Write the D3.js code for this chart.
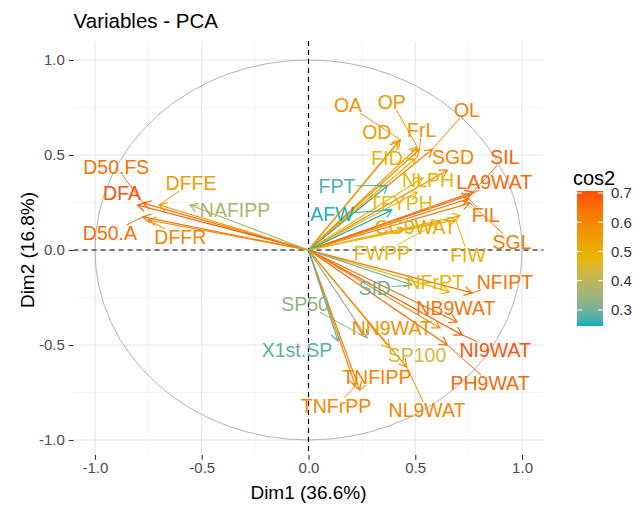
<!DOCTYPE html>
<html lang="en">
<head>
<meta charset="UTF-8">
<title>Variables - PCA</title>
<script src="https://d3js.org/d3.v7.min.js"></script>
<style>
  body { margin: 0; background: #fff; }
  svg text { font-family: "Liberation Sans", Arial, sans-serif; }
</style>
</head>
<body>
<svg width="643" height="506"></svg>
<script>
// variable names, coordinates on Dim1/Dim2, cos2, and label positions (repel result, data units)
const varNames = ["D50.FS","DFA","D50.A","DFFE","DFFR","NAFIPP","OA","OP","OL","OD","FrL","FID","SGD","SIL",
  "LA9WAT","FIL","SGL","NLPH","TFYPH","FPT","AFW","CG9WAT","FIW","FWPP","NFrPT","NFIPT","SID","NB9WAT",
  "NI9WAT","PH9WAT","NN9WAT","SP100","NL9WAT","TNFIPP","TNFrPP","X1st.SP","SP50"];
const dim1 = [-0.775,-0.80,-0.775,-0.70,-0.75,-0.555,0.43,0.51,0.58,0.42,0.52,0.50,0.65,0.77,
  0.756,0.75,0.756,0.536,0.51,0.37,0.39,0.71,0.69,0.616,0.66,0.766,0.485,0.696,
  0.72,0.65,0.616,0.38,0.46,0.24,0.22,0.138,0.274];
const dim2 = [0.247,0.237,0.174,0.237,0.158,0.237,0.58,0.54,0.53,0.57,0.53,0.48,0.42,0.305,
  0.29,0.27,0.247,0.38,0.305,0.34,0.21,0.18,0.158,0.147,-0.22,-0.226,-0.184,-0.379,
  -0.447,-0.50,-0.41,-0.516,-0.616,-0.737,-0.716,-0.479,-0.463];
const cos2 = [0.64,0.70,0.65,0.55,0.60,0.37,0.57,0.57,0.61,0.55,0.57,0.49,0.60,0.68,
  0.66,0.64,0.62,0.48,0.47,0.27,0.25,0.52,0.50,0.47,0.48,0.64,0.29,0.64,
  0.70,0.66,0.58,0.44,0.60,0.61,0.60,0.28,0.33];
const labelDim1 = [-0.90,-0.873,-0.93,-0.55,-0.60,-0.344,0.185,0.39,0.742,0.32,0.53,0.368,0.677,0.92,
  0.87,0.83,0.953,0.56,0.433,0.133,0.11,0.50,0.747,0.344,0.593,0.92,0.31,0.69,
  0.874,0.85,0.39,0.508,0.555,0.32,0.129,-0.054,-0.016];
const labelDim2 = [0.437,0.30,0.09,0.353,0.068,0.21,0.763,0.78,0.737,0.62,0.63,0.484,0.49,0.49,
  0.358,0.184,0.042,0.37,0.25,0.337,0.19,0.12,-0.026,-0.016,-0.168,-0.168,-0.2,-0.305,
  -0.526,-0.70,-0.41,-0.553,-0.842,-0.668,-0.82,-0.526,-0.284];

const xTicks = [-1, -0.5, 0, 0.5, 1];
const yTicks = [-1, -0.5, 0, 0.5, 1];
const minorTicks = [-0.75, -0.25, 0.25, 0.75];
const legendTicks = [0.3, 0.4, 0.5, 0.6, 0.7];
const cos2Range = [0.245, 0.707];
const gradientCols = ["#00AFBB", "#E7B800", "#FC4E07"];

const rows = varNames.map((name, i) => ({
  name, x: dim1[i], y: dim2[i], cos2: cos2[i], lx: labelDim1[i], ly: labelDim2[i]
}));

const svg = d3.select("svg");
const x = d3.scaleLinear().domain([-1.1, 1.1]).range([73.6, 543.4]);
const y = d3.scaleLinear().domain([-1.1, 1.1]).range([459, 41]);
const panelBottom = 455;

const color = d3.scaleLinear()
  .domain([cos2Range[0], (cos2Range[0] + cos2Range[1]) / 2, cos2Range[1]])
  .range(gradientCols)
  .interpolate(d3.interpolateLab)
  .clamp(true);

// grid
const grid = svg.append("g");
grid.selectAll(".vminor").data(minorTicks).join("line")
  .attr("x1", d => x(d)).attr("x2", d => x(d)).attr("y1", y(1.1)).attr("y2", panelBottom)
  .attr("stroke", "#EFEFEF").attr("stroke-width", 0.7);
grid.selectAll(".hminor").data(minorTicks).join("line")
  .attr("y1", d => y(d)).attr("y2", d => y(d)).attr("x1", x(-1.1)).attr("x2", x(1.1))
  .attr("stroke", "#EFEFEF").attr("stroke-width", 0.7);
grid.selectAll(".vmajor").data(xTicks).join("line")
  .attr("x1", d => x(d)).attr("x2", d => x(d)).attr("y1", y(1.1)).attr("y2", panelBottom)
  .attr("stroke", "#E6E6E6").attr("stroke-width", 1.1);
grid.selectAll(".hmajor").data(yTicks).join("line")
  .attr("y1", d => y(d)).attr("y2", d => y(d)).attr("x1", x(-1.1)).attr("x2", x(1.1))
  .attr("stroke", "#E6E6E6").attr("stroke-width", 1.1);

// correlation circle
svg.append("ellipse")
  .attr("cx", x(0)).attr("cy", y(0))
  .attr("rx", x(1) - x(0)).attr("ry", y(0) - y(1))
  .attr("fill", "none").attr("stroke", "#B3B3B3").attr("stroke-width", 1);

// dashed zero lines
svg.append("line").attr("x1", x(-1.1)).attr("x2", x(1.1)).attr("y1", y(0)).attr("y2", y(0))
  .attr("stroke", "#000").attr("stroke-width", 1.2).attr("stroke-dasharray", "5,4");
svg.append("line").attr("x1", x(0)).attr("x2", x(0)).attr("y1", y(1.1)).attr("y2", panelBottom)
  .attr("stroke", "#000").attr("stroke-width", 1.2).attr("stroke-dasharray", "5,4");

// arrows
function arrowPath(x0, y0, x1, y1) {
  const a = Math.atan2(y1 - y0, x1 - x0), L = 9, w = Math.PI / 6;
  const p1 = [x1 - L * Math.cos(a - w), y1 - L * Math.sin(a - w)];
  const p2 = [x1 - L * Math.cos(a + w), y1 - L * Math.sin(a + w)];
  return `M${x0},${y0}L${x1},${y1}M${p1}L${x1},${y1}L${p2}`;
}
svg.append("g").selectAll("path").data(rows).join("path")
  .attr("d", d => arrowPath(x(0), y(0), x(d.x), y(d.y)))
  .attr("fill", "none")
  .attr("stroke", d => color(d.cos2))
  .attr("stroke-width", 1.2);

// labels (segments drawn underneath)
const segG = svg.append("g");
const labels = svg.append("g").selectAll("text").data(rows).join("text")
  .attr("x", d => x(d.lx)).attr("y", d => y(d.ly))
  .attr("dy", "0.36em")
  .attr("text-anchor", "middle")
  .attr("font-size", 19.5)
  .attr("fill", d => color(d.cos2))
  .text(d => d.name);

labels.each(function(d) {
  const w = this.getComputedTextLength();
  const cx = x(d.lx), cy = y(d.ly);
  const hw = w / 2 + 1, hh = 8;
  const px = x(d.x), py = y(d.y);
  const dx = px - cx, dy = py - cy;
  if (Math.abs(dx) <= hw && Math.abs(dy) <= hh) return;
  const t = Math.min(dx !== 0 ? hw / Math.abs(dx) : Infinity, dy !== 0 ? hh / Math.abs(dy) : Infinity);
  const sx = cx + dx * t, sy = cy + dy * t;
  if (Math.hypot(px - sx, py - sy) < 8) return;
  segG.append("line")
    .attr("x1", sx).attr("y1", sy).attr("x2", px).attr("y2", py)
    .attr("stroke", color(d.cos2)).attr("stroke-width", 1);
});

// axes
const xAxis = svg.append("g")
  .attr("transform", `translate(0,${panelBottom})`)
  .call(d3.axisBottom(x).tickValues(xTicks).tickFormat(d => d.toFixed(1)).tickSize(4.8).tickPadding(3));
const yAxis = svg.append("g")
  .attr("transform", `translate(${x(-1.1)},0)`)
  .call(d3.axisLeft(y).tickValues(yTicks).tickFormat(d => d.toFixed(1)).tickSize(4.8).tickPadding(4));
[xAxis, yAxis].forEach(a => {
  a.select(".domain").remove();
  a.selectAll(".tick line").attr("stroke", "#333").attr("stroke-width", 1.1);
  a.selectAll(".tick text").attr("fill", "#4D4D4D").attr("font-size", 15)
    .attr("font-family", "'Liberation Sans', Arial, sans-serif");
});

// titles
svg.append("text").attr("x", x(-1.1)).attr("y", 28)
  .attr("font-size", 20.5).attr("fill", "#000").text("Variables - PCA");
svg.append("text").attr("x", x(0)).attr("y", 499)
  .attr("text-anchor", "middle").attr("font-size", 19).attr("fill", "#000").text("Dim1 (36.6%)");
svg.append("text").attr("transform", `translate(34,${y(0)}) rotate(-90)`)
  .attr("text-anchor", "middle").attr("font-size", 19).attr("fill", "#000").text("Dim2 (16.8%)");

// legend
const ly = d3.scaleLinear().domain(cos2Range).range([326, 191]);
const defs = svg.append("defs");
const grad = defs.append("linearGradient").attr("id", "cos2grad")
  .attr("x1", 0).attr("y1", 1).attr("x2", 0).attr("y2", 0);
d3.range(0, 1.0001, 0.05).forEach(t => {
  grad.append("stop").attr("offset", t)
    .attr("stop-color", color(cos2Range[0] + t * (cos2Range[1] - cos2Range[0])));
});
const bx = 577, bw = 26;
svg.append("text").attr("x", 573).attr("y", 185).attr("font-size", 20).attr("fill", "#000").text("cos2");
svg.append("rect").attr("x", bx).attr("y", ly(cos2Range[1])).attr("width", bw)
  .attr("height", ly(cos2Range[0]) - ly(cos2Range[1])).attr("fill", "url(#cos2grad)");
const lt = svg.append("g").selectAll("g").data(legendTicks).join("g");
lt.append("line").attr("x1", bx).attr("x2", bx + 5).attr("y1", d => ly(d)).attr("y2", d => ly(d))
  .attr("stroke", "#fff").attr("stroke-width", 1);
lt.append("line").attr("x1", bx + bw - 5).attr("x2", bx + bw).attr("y1", d => ly(d)).attr("y2", d => ly(d))
  .attr("stroke", "#fff").attr("stroke-width", 1);
lt.append("text").attr("x", 611).attr("y", d => ly(d)).attr("dy", "0.36em")
  .attr("font-size", 15).attr("fill", "#333").text(d => d.toFixed(1));
</script>
</body>
</html>
